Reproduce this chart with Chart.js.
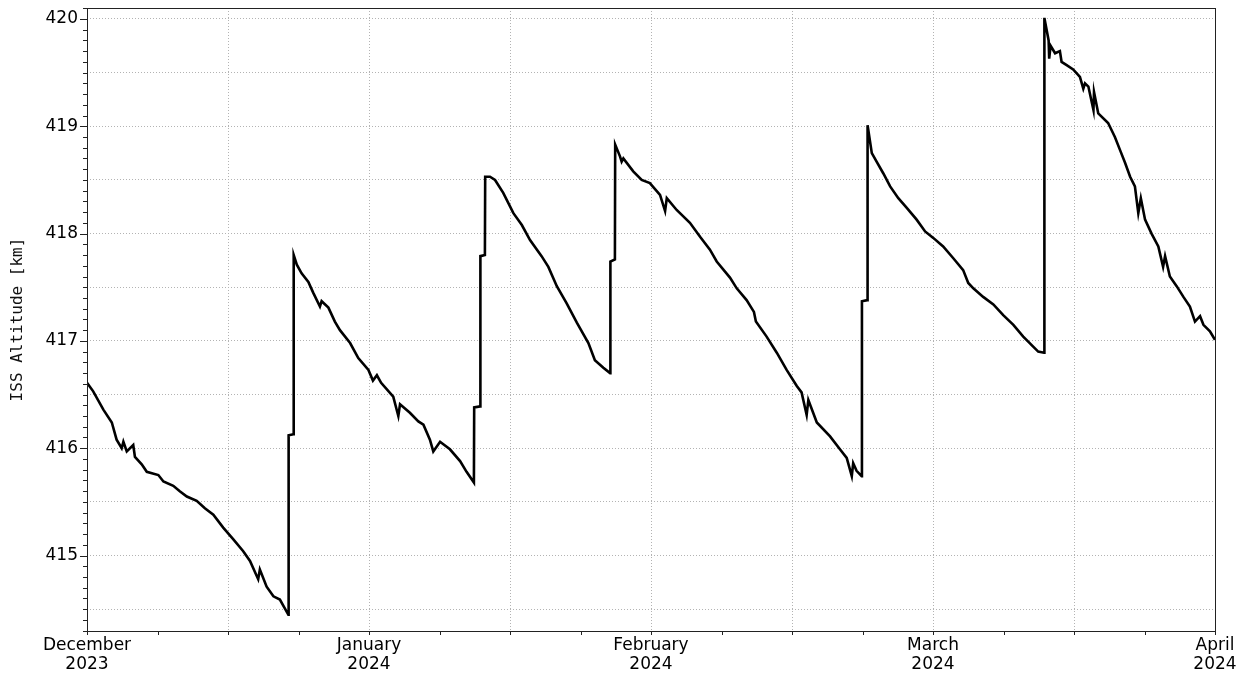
<!DOCTYPE html>
<html>
<head>
<meta charset="utf-8">
<script src="https://cdn.jsdelivr.net/npm/chart.js@4"></script>
<style>
  body { margin: 0; background: #fff; }
  #wrap { width: 1243px; height: 677px; }
</style>
</head>
<body>
<div id="wrap"><canvas id="issChart" width="1243" height="677"></canvas></div>
<script>
// time in months after 1 December 2023 (axis is equally spaced per month)
const timeMonths = [
  0.000, 0.022, 0.058, 0.088, 0.105, 0.123, 0.129, 0.141, 0.164, 0.170, 0.194, 0.212, 0.253, 0.271,
  0.306, 0.329, 0.354, 0.389, 0.418, 0.448, 0.483, 0.519, 0.554, 0.578, 0.607, 0.613, 0.637, 0.661,
  0.684, 0.699, 0.714, 0.715, 0.732, 0.733,
  0.744, 0.761, 0.785, 0.802, 0.826, 0.832, 0.856, 0.879, 0.897, 0.933, 0.962, 0.998, 1.014, 1.028,
  1.043, 1.086, 1.104, 1.110, 1.145, 1.175, 1.193, 1.216, 1.228, 1.252, 1.287, 1.323, 1.346, 1.372,
  1.373, 1.394, 1.395, 1.411, 1.412,
  1.429, 1.447, 1.476, 1.512, 1.542, 1.571, 1.612, 1.636, 1.666, 1.701, 1.737, 1.778, 1.801, 1.831,
  1.855, 1.856, 1.872, 1.873,
  1.890, 1.896, 1.902, 1.937, 1.967, 1.996, 2.032, 2.050, 2.056, 2.091, 2.138, 2.174, 2.209, 2.233,
  2.280, 2.304, 2.339, 2.365, 2.372, 2.410, 2.446, 2.481, 2.517, 2.534, 2.552, 2.558, 2.588, 2.635,
  2.670, 2.694, 2.712, 2.717, 2.729, 2.747, 2.748, 2.767, 2.768,
  2.783, 2.800, 2.824, 2.848, 2.877, 2.907, 2.942, 2.972, 3.001, 3.036, 3.072, 3.107, 3.125, 3.143,
  3.178, 3.214, 3.249, 3.285, 3.320, 3.350, 3.373, 3.394, 3.395,
  3.410, 3.412, 3.417, 3.433, 3.450, 3.456, 3.474, 3.497, 3.521, 3.533, 3.539, 3.551, 3.569, 3.571,
  3.586, 3.621, 3.645, 3.663, 3.681, 3.699, 3.716, 3.728, 3.737, 3.752, 3.775, 3.799, 3.816, 3.823,
  3.840, 3.864, 3.888, 3.911, 3.929, 3.947, 3.959, 3.982, 4.000
];

// ISS altitude [km]
const altitudeKm = [
  416.61, 416.53, 416.36, 416.24, 416.08, 416.00, 416.06, 415.97, 416.03, 415.92, 415.85, 415.78, 415.75, 415.69,
  415.65, 415.60, 415.55, 415.51, 415.44, 415.38, 415.26, 415.15, 415.04, 414.95, 414.78, 414.87, 414.71, 414.62,
  414.59, 414.52, 414.45, 416.12, 416.13, 417.80,
  417.71, 417.63, 417.55, 417.45, 417.32, 417.37, 417.31, 417.18, 417.10, 416.98, 416.84, 416.73, 416.63, 416.68,
  416.61, 416.48, 416.30, 416.41, 416.33, 416.25, 416.22, 416.08, 415.97, 416.06, 415.99, 415.88, 415.78, 415.68,
  416.38, 416.39, 417.79, 417.80, 418.53,
  418.53, 418.50, 418.38, 418.19, 418.08, 417.94, 417.79, 417.69, 417.51, 417.35, 417.17, 416.98, 416.82, 416.75,
  416.70, 417.74, 417.76, 418.83,
  418.72, 418.67, 418.70, 418.58, 418.50, 418.47, 418.36, 418.21, 418.33, 418.22, 418.10, 417.97, 417.85, 417.74,
  417.59, 417.49, 417.38, 417.27, 417.18, 417.04, 416.89, 416.73, 416.58, 416.52, 416.31, 416.45, 416.24, 416.11,
  415.99, 415.91, 415.74, 415.86, 415.79, 415.74, 417.37, 417.38, 419.01,
  418.75, 418.67, 418.56, 418.44, 418.33, 418.24, 418.13, 418.02, 417.96, 417.88, 417.77, 417.66, 417.54, 417.49,
  417.41, 417.34, 417.24, 417.15, 417.04, 416.96, 416.90, 416.89, 420.01,
  419.80, 419.63, 419.75, 419.68, 419.70, 419.60, 419.57, 419.53, 419.46, 419.35, 419.40, 419.37, 419.15, 419.32,
  419.12, 419.03, 418.90, 418.78, 418.66, 418.53, 418.44, 418.19, 418.33, 418.13, 418.00, 417.88, 417.69, 417.79,
  417.60, 417.51, 417.41, 417.32, 417.18, 417.23, 417.15, 417.09, 417.01
];

const monthLabels = ["December", "January", "February", "March", "April"];
const yearLabels = ["2023", "2024", "2024", "2024", "2024"];

const points = timeMonths.map((t, i) => ({ x: t, y: altitudeKm[i] }));

const isStep = (v, step) => Math.abs(v / step - Math.round(v / step)) < 1e-6;
const gridColor = "#b3b3b3";

// frame round the plot and the small tick marks (major / minor)
const axisDecor = {
  id: "axisDecor",
  afterDraw(chart) {
    const { ctx, chartArea: a, scales } = chart;
    ctx.save();
    ctx.strokeStyle = "#222";
    ctx.lineWidth = 1;
    ctx.beginPath();
    scales.y.ticks.forEach((t) => {
      const py = Math.round(scales.y.getPixelForValue(t.value)) + 0.5;
      const len = isStep(t.value, 1) ? 7 : 4;
      ctx.moveTo(a.left - len, py);
      ctx.lineTo(a.left, py);
    });
    scales.x.ticks.forEach((t) => {
      const px = Math.round(scales.x.getPixelForValue(t.value)) + 0.5;
      ctx.moveTo(px, a.bottom);
      ctx.lineTo(px, a.bottom + 4);
    });
    ctx.stroke();
    ctx.strokeRect(Math.round(a.left) + 0.5, Math.round(a.top) + 0.5,
      Math.round(a.right - a.left), Math.round(a.bottom - a.top));
    ctx.restore();
  },
};

new Chart(document.getElementById("issChart"), {
  type: "line",
  data: {
    datasets: [
      {
        label: "ISS Altitude",
        data: points,
        borderColor: "#000",
        borderWidth: 2.6,
        pointRadius: 0,
        tension: 0,
        fill: false,
      },
    ],
  },
  options: {
    responsive: false,
    animation: false,
    layout: { padding: { left: 0, right: 28, top: 8, bottom: 0 } },
    plugins: {
      legend: { display: false },
      tooltip: { enabled: false },
    },
    scales: {
      x: {
        type: "linear",
        min: 0,
        max: 4,
        afterFit: (scale) => {
          scale.height = 46;
          scale.paddingLeft = 0;
          scale.paddingRight = 0;
        },
        border: { display: false, dash: [1, 2] },
        grid: {
          drawTicks: false,
          lineWidth: 1,
          color: (c) => (isStep(c.tick.value, 0.5) ? gridColor : "rgba(0,0,0,0)"),
        },
        ticks: {
          stepSize: 0.25,
          autoSkip: false,
          maxRotation: 0,
          includeBounds: false,
          padding: 5,
          color: "#000",
          font: { family: "DejaVu Sans", size: 17, lineHeight: 1.12 },
          callback: (v) => {
            if (!isStep(v, 1)) return "";
            const i = Math.round(v);
            return [monthLabels[i], yearLabels[i]];
          },
        },
      },
      y: {
        min: 414.297,
        max: 420.102,
        afterFit: (scale) => {
          scale.width = 87;
          scale.paddingTop = 0;
          scale.paddingBottom = 0;
        },
        border: { display: false, dash: [1, 2] },
        grid: {
          drawTicks: false,
          lineWidth: 1,
          color: (c) => (isStep(c.tick.value, 0.5) ? gridColor : "rgba(0,0,0,0)"),
        },
        ticks: {
          stepSize: 0.1,
          maxTicksLimit: 1000,
          includeBounds: false,
          autoSkip: false,
          padding: 9,
          color: "#000",
          font: { family: "DejaVu Sans", size: 17 },
          callback: (v) => (isStep(v, 1) ? String(Math.round(v)) : ""),
        },
        title: {
          display: true,
          text: "ISS Altitude [km]",
          color: "#111",
          padding: { top: 8, bottom: 0 },
          font: { family: "DejaVu Sans Mono", size: 16 },
        },
      },
    },
  },
  plugins: [axisDecor],
});
</script>
</body>
</html>
